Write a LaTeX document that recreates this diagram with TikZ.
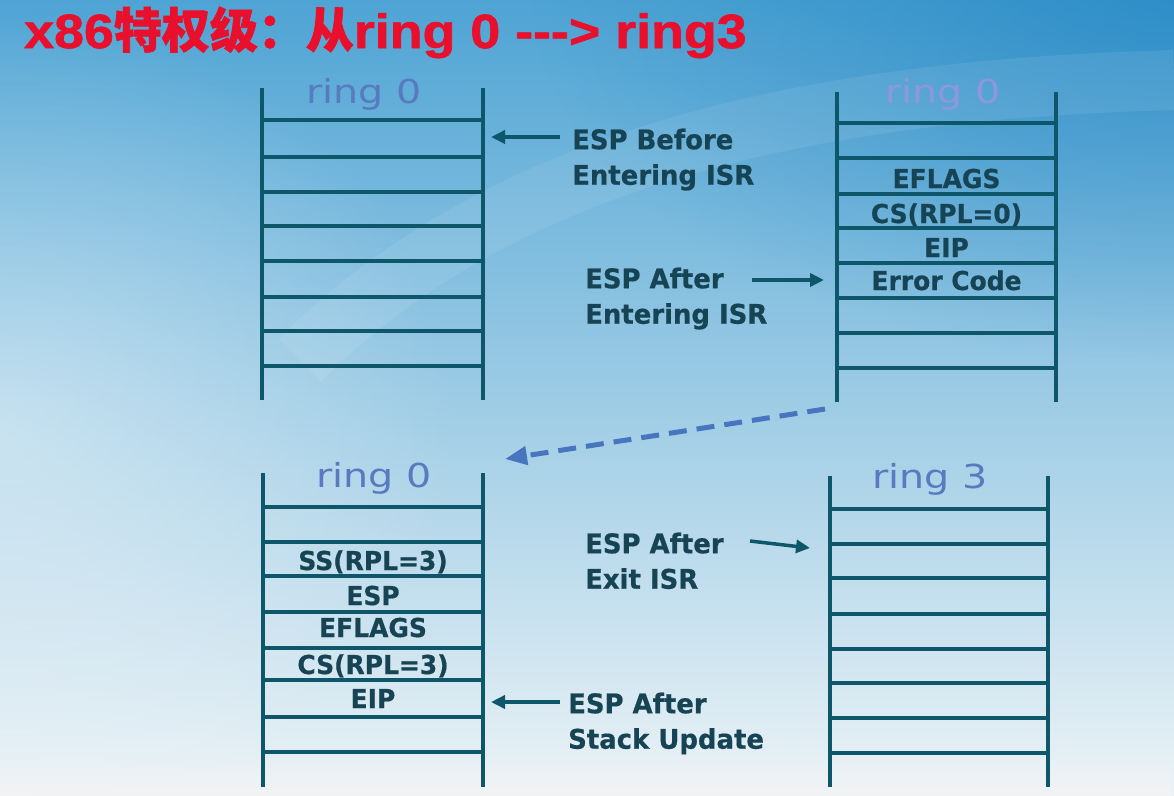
\documentclass[tikz,border=0pt]{standalone}
\usepackage{fontspec}
\usetikzlibrary{arrows.meta,fadings}

\newfontfamily\cjkfont[FakeBold=1.4]{Noto Sans CJK SC}
\newfontfamily\titlelat[FakeStretch=1.12,FakeBold=1.4]{Liberation Sans}
\newfontfamily\lblfont[FakeStretch=0.96,BoldFeatures={FakeBold=0.6}]{DejaVu Sans}
\newfontfamily\ringfont[FakeStretch=1.2]{DejaVu Sans}

\definecolor{stackline}{RGB}{14,86,106}
\definecolor{lbltext}{RGB}{22,68,84}
\definecolor{ringblue}{RGB}{88,122,192}
\definecolor{ringfade}{RGB}{150,150,222}
\definecolor{dasharrow}{RGB}{72,118,190}
\definecolor{titlered}{RGB}{232,16,44}
\definecolor{bgtop}{RGB}{78,164,212}
\definecolor{bgmid}{RGB}{150,205,228}
\definecolor{bgbot}{RGB}{236,243,246}
\definecolor{deepblue}{RGB}{22,124,190}
\definecolor{floor}{RGB}{242,243,244}

\tikzfading[name=softspot, inner color=transparent!0, outer color=transparent!100]

\newcommand\titlestr{%
  {\titlelat\bfseries x86}{\cjkfont\bfseries 特权级：从}%
  {\titlelat\bfseries ring 0 {-}{-}{-}> ring3}}

\tikzset{
  rail/.style={stackline, line width=4pt},
  rung/.style={stackline, line width=3.6pt},
  cell/.style={font=\lblfont\bfseries\fontsize{26}{26}\selectfont,
    text=lbltext, inner sep=0pt, anchor=base},
  note/.style={font=\lblfont\bfseries\fontsize{27}{35.5}\selectfont,
    text=lbltext, align=left, inner sep=0pt, anchor=north west},
  ringlbl/.style={font=\ringfont\fontsize{33}{33}\selectfont,
    text=ringblue, inner sep=0pt, anchor=base},
  ptr/.style={stackline, line width=3.5pt,
    -{Triangle[length=14pt,width=13pt]}},
  jump/.style={dasharrow, line width=5pt, dash pattern=on 18pt off 10pt,
    -{Triangle[length=22pt,width=18pt]}},
  headline/.style={font=\fontsize{48}{48}\selectfont, inner sep=0pt,
    anchor=base west},
}

\begin{document}
\begin{tikzpicture}[x=1pt,y=-1pt]
  \useasboundingbox (0,0) rectangle (1174,795);
  % backdrop
  \begin{scope}
    \clip (0,0) rectangle (1174,795);
    \shade[top color=bgtop, middle color=bgmid, bottom color=bgbot]
      (0,0) rectangle (1174,795);
    \fill[white, fill opacity=0.4, path fading=softspot]
      (0,430) ellipse (460 and 420);
    \fill[deepblue, fill opacity=0.55, path fading=softspot]
      (1174,0) ellipse (640 and 360);
    \draw[white, line width=60pt, opacity=0.08]
      (300,360) .. controls (500,160) and (800,90) .. (1174,80);
    \fill[floor, path fading=north] (0,755) rectangle (1174,795);
  \end{scope}

  % heading
  \node[headline, text=titlered] (title) at (24,48) {\titlestr};

  % stack A: ring 0 before the interrupt
  \draw[rail] (262,88) -- (262,400);
  \draw[rail] (483,88) -- (483,400);
  \foreach \y in {120,157,192,226,261,297,331,366}
    \draw[rung] (262,\y) -- (483,\y);
  \node[ringlbl] (ringA) at (364,103) {ring 0};

  % stack B: ring 0 after entering the ISR
  \draw[rail] (837,92) -- (837,402);
  \draw[rail] (1056,92) -- (1056,402);
  \foreach \y in {123,158,194,228,263,298,333,368}
    \draw[rung] (837,\y) -- (1056,\y);
  \node[ringlbl, text=ringfade, opacity=0.85] (ringB) at (943,103) {ring 0};
  \node[cell] (b1) at (946.5,188) {EFLAGS};
  \node[cell] (b2) at (946.5,223) {CS(RPL=0)};
  \node[cell] (b3) at (946.5,257) {EIP};
  \node[cell] (b4) at (946.5,290) {Error Code};

  % stack C: ring 0 prepared for the return
  \draw[rail] (263,473) -- (263,787);
  \draw[rail] (483,473) -- (483,787);
  \foreach \y in {507,542,576,612,648,680,717,752}
    \draw[rung] (263,\y) -- (483,\y);
  \node[ringlbl] (ringC) at (374,487) {ring 0};
  \node[cell] (c1) at (373,570) {SS(RPL=3)};
  \node[cell] (c2) at (373,605) {ESP};
  \node[cell] (c3) at (373,637) {EFLAGS};
  \node[cell] (c4) at (373,674) {CS(RPL=3)};
  \node[cell] (c5) at (373,708) {EIP};

  % stack D: ring 3 after leaving the ISR
  \draw[rail] (830,476) -- (830,787);
  \draw[rail] (1048,476) -- (1048,787);
  \foreach \y in {509,544,578,614,649,683,718,753}
    \draw[rung] (830,\y) -- (1048,\y);
  \node[ringlbl] (ringD) at (930,488) {ring 3};

  % stack pointer notes
  \node[note] (n1) at (572,128.5) {ESP Before\\Entering ISR};
  \node[note] (n2) at (585,267.5) {ESP After\\Entering ISR};
  \node[note] (n3) at (585,532.5) {ESP After\\Exit ISR};
  \node[note] (n4) at (568,692.5) {ESP After\\Stack Update};

  \coordinate (p1s) at (560,137);  \coordinate (p1e) at (491,137);
  \coordinate (p2s) at (752,280);  \coordinate (p2e) at (824,280);
  \coordinate (p3s) at (750,541);  \coordinate (p3e) at (810,548);
  \coordinate (p4s) at (560,702);  \coordinate (p4e) at (491,702);
  \draw[ptr] (p1s) -- (p1e);
  \draw[ptr] (p2s) -- (p2e);
  \draw[ptr] (p3s) -- (p3e);
  \draw[ptr] (p4s) -- (p4e);

  % transfer from the kernel frame to the return frame
  \coordinate (js) at (825,409);
  \coordinate (je) at (505,459);
  \draw[jump] (js) -- (je);
\end{tikzpicture}
\end{document}
